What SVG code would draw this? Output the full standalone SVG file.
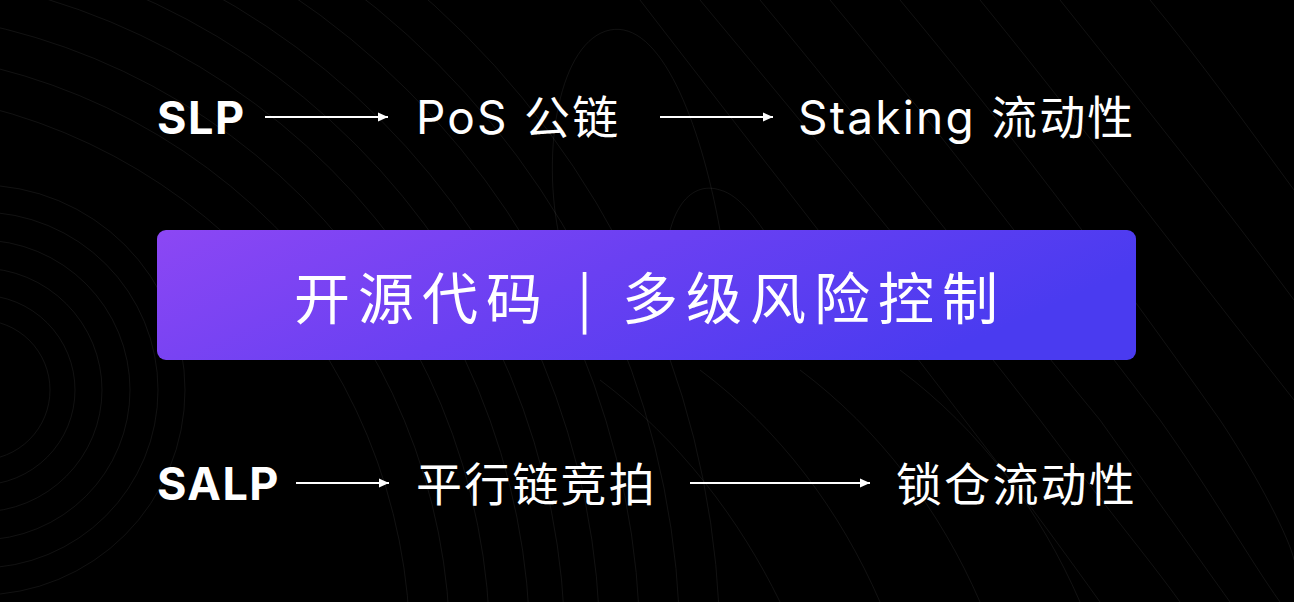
<svg xmlns="http://www.w3.org/2000/svg" width="1294" height="602" viewBox="0 0 1294 602">
  <defs>
    <linearGradient id="boxGrad" x1="0" y1="0" x2="1" y2="0.3">
      <stop offset="0" stop-color="#8c47f4"/>
      <stop offset="0.5" stop-color="#6a40f2"/>
      <stop offset="1" stop-color="#4a3bf0"/>
    </linearGradient>
    <marker id="arrow" viewBox="0 0 10 10" refX="10" refY="5" markerWidth="10" markerHeight="10" markerUnits="userSpaceOnUse" orient="auto">
      <path d="M0,0.5 L10,5 L0,9.5 Z" fill="#ffffff"/>
    </marker>
  </defs>
  <style>
    .bgline { fill: none; stroke: #ffffff; stroke-opacity: 0.07; stroke-width: 1; }
    .lat { font-family: Inter, "Liberation Sans", "Noto Sans CJK SC", sans-serif; fill: #ffffff; }
    .cjk { font-family: "Noto Sans CJK SC", "Noto Sans", sans-serif; fill: #ffffff; }
    .bold { font-weight: 700; font-size: 45px; letter-spacing: 1.5px; }
    .reg { font-size: 46px; letter-spacing: 2.2px; }
    .mid { font-size: 56px; letter-spacing: 8px; }
    .conn { stroke: #ffffff; stroke-width: 2; fill: none; marker-end: url(#arrow); }
  </style>
  <rect x="0" y="0" width="1294" height="602" fill="#000000"/>
  <g id="background">
    <circle class="bgline" cx="-20" cy="390" r="70"/>
    <circle class="bgline" cx="-20" cy="390" r="95"/>
    <circle class="bgline" cx="-20" cy="390" r="122"/>
    <circle class="bgline" cx="-20" cy="390" r="150"/>
    <circle class="bgline" cx="-20" cy="390" r="178"/>
    <circle class="bgline" cx="-20" cy="390" r="205"/>
    <circle class="bgline" cx="-150" cy="650" r="560"/>
    <circle class="bgline" cx="-150" cy="650" r="600"/>
    <circle class="bgline" cx="-150" cy="650" r="640"/>
    <circle class="bgline" cx="-150" cy="650" r="680"/>
    <circle class="bgline" cx="-150" cy="650" r="715"/>
    <circle class="bgline" cx="-150" cy="650" r="750"/>
    <circle class="bgline" cx="-150" cy="650" r="790"/>
    <circle class="bgline" cx="-150" cy="650" r="830"/>
    <circle class="bgline" cx="-150" cy="650" r="870"/>
    <path class="bgline" d="M560,240 C540,150 560,40 610,30 C660,20 700,120 720,230"/>
    <path class="bgline" d="M665,300 C660,210 690,180 720,190 C760,200 800,300 820,330"/>
    <path class="bgline" d="M700,0 C800,120 900,240 1040,420 C1100,500 1150,560 1180,602"/>
    <path class="bgline" d="M760,0 C860,120 960,250 1100,420 C1150,490 1200,560 1230,602"/>
    <path class="bgline" d="M830,0 C930,120 1030,250 1160,420 C1210,490 1250,560 1280,602"/>
    <path class="bgline" d="M900,0 C1000,120 1100,250 1220,420 C1260,480 1290,540 1294,560"/>
    <path class="bgline" d="M980,0 C1070,110 1160,230 1294,400"/>
    <path class="bgline" d="M1060,0 C1140,100 1220,200 1294,300"/>
    <path class="bgline" d="M1150,0 C1200,60 1250,130 1294,190"/>
    <path class="bgline" d="M640,0 C740,130 850,270 980,440 C1030,505 1070,560 1100,602"/>
    <path class="bgline" d="M600,380 C680,440 740,520 780,602"/>
    <path class="bgline" d="M700,370 C780,430 840,510 880,602"/>
    <path class="bgline" d="M800,370 C880,430 940,510 980,602"/>
    <path class="bgline" d="M900,370 C980,430 1040,510 1080,602"/>
  </g>
  <g id="connectors">
    <line class="conn" x1="265" y1="117" x2="388" y2="117"/>
    <line class="conn" x1="660" y1="117" x2="773" y2="117"/>
    <line class="conn" x1="296" y1="483" x2="389" y2="483"/>
    <line class="conn" x1="690" y1="483" x2="870" y2="483"/>
  </g>
  <g id="node-slp">
    <text class="lat bold" x="157" y="134">SLP</text>
  </g>
  <g id="node-pos">
    <text class="lat reg" x="416" y="134">PoS <tspan class="cjk">公链</tspan></text>
  </g>
  <g id="node-staking">
    <text class="lat reg" x="798" y="134">Staking <tspan class="cjk">流动性</tspan></text>
  </g>
  <g id="node-center">
    <rect x="157" y="230" width="979" height="130" rx="9" ry="9" fill="url(#boxGrad)"/>
    <text class="cjk mid" y="319"><tspan x="294">开源代码</tspan><tspan x="577">|</tspan><tspan x="622">多级风险控制</tspan></text>
  </g>
  <g id="node-salp">
    <text class="lat bold" x="157" y="500">SALP</text>
  </g>
  <g id="node-auction">
    <text class="cjk reg" x="416" y="501">平行链竞拍</text>
  </g>
  <g id="node-locked">
    <text class="cjk reg" x="896" y="501">锁仓流动性</text>
  </g>
</svg>
